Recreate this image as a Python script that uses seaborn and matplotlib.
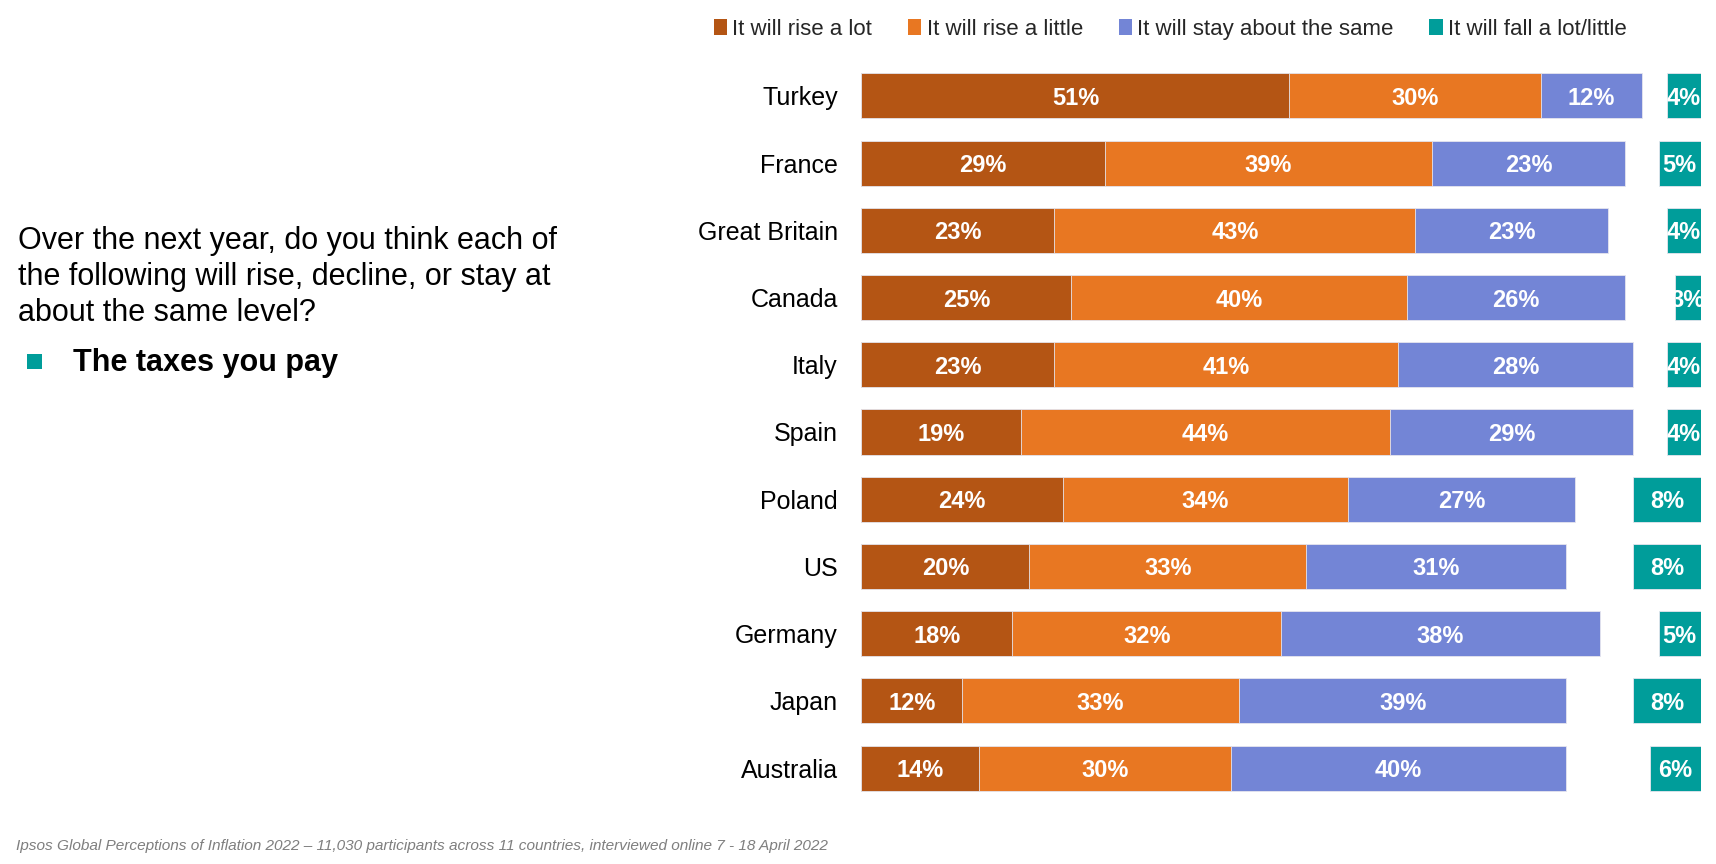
import matplotlib
matplotlib.use("Agg")
import matplotlib.pyplot as plt
import seaborn as sns
from matplotlib.patches import Patch, Rectangle

# Data
countries = ["Turkey", "France", "Great Britain", "Canada", "Italy", "Spain",
             "Poland", "US", "Germany", "Japan", "Australia"]
rise_lot = [51, 29, 23, 25, 23, 19, 24, 20, 18, 12, 14]
rise_little = [30, 39, 43, 40, 41, 44, 34, 33, 32, 33, 30]
stay_same = [12, 23, 23, 26, 28, 29, 27, 31, 38, 39, 40]
fall = [4, 5, 4, 3, 4, 4, 8, 8, 5, 8, 6]
series_names = ["It will rise a lot", "It will rise a little",
                "It will stay about the same", "It will fall a lot/little"]

colors = ["#B45514", "#E87722", "#7385D6", "#009D9A"]

# Settings
sns.set_theme(style="white")
plt.rcParams['font.family'] = ['Liberation Sans', 'DejaVu Sans']

fig = plt.figure(figsize=(17.16, 8.64), dpi=100)
ax = fig.add_axes([0.502, 0.072, 0.489, 0.856])

cum1 = rise_lot
cum2 = [a + b for a, b in zip(rise_lot, rise_little)]
cum3 = [a + b + c for a, b, c in zip(rise_lot, rise_little, stay_same)]

# stacked bars: draw longest first
for vals, col in [(cum3, colors[2]), (cum2, colors[1]), (cum1, colors[0])]:
    sns.barplot(x=vals, y=countries, color=col, width=0.67, ax=ax,
                edgecolor="#e6e6ee", linewidth=0.6, saturation=1)

for i in range(len(countries)):
    starts = [0, cum1[i], cum2[i]]
    widths = [rise_lot[i], rise_little[i], stay_same[i]]
    for s, w in zip(starts, widths):
        ax.text(s + w / 2, i, f"{w}%", ha="center", va="center_baseline",
                color="white", fontsize=17, fontweight="bold")

ax.set_xlim(0, 100)

# falling share, anchored at the right edge
ax2 = ax.twiny()
sns.barplot(x=fall, y=countries, color=colors[3], width=0.67, ax=ax2,
            edgecolor="#e6e6ee", linewidth=0.6, saturation=1)
for i, v in enumerate(fall):
    ax2.text(v / 2, i, f"{v}%", ha="center", va="center_baseline",
             color="white", fontsize=17, fontweight="bold", zorder=1)
ax2.set_xlim(100, 0)
ax.set_ylim(len(countries) - 0.5, -0.5)

for a in (ax, ax2):
    for sp in a.spines.values():
        sp.set_visible(False)
    a.set_xticks([])
    a.set_xlabel("")
    a.set_ylabel("")
ax.tick_params(axis="y", length=0, pad=17, labelsize=18, labelcolor="black")

# Legend
handles = [Patch(facecolor=c, edgecolor="none") for c in colors]
fig.legend(handles, series_names, loc="center", bbox_to_anchor=(0.682, 0.966),
           ncol=4, frameon=False, fontsize=16, handlelength=0.6, handleheight=0.75,
           handletextpad=0.25, columnspacing=1.6)

# Question text
fig.text(0.0105, 0.738, "Over the next year, do you think each of\n"
         "the following will rise, decline, or stay at\n"
         "about the same level?", ha="left", va="top", fontsize=22,
         linespacing=1.26, color="black")
fig.patches.append(Rectangle((0.0157, 0.573), 0.0088, 0.0175, transform=fig.transFigure,
                             facecolor=colors[3], edgecolor="none"))
fig.text(0.0425, 0.580, "The taxes you pay", ha="left", va="center",
         fontsize=22, fontweight="bold", color="black")

# Footer
fig.text(0.0093, 0.021, "Ipsos Global Perceptions of Inflation 2022 \u2013 11,030 participants across "
         "11 countries, interviewed online 7 - 18 April 2022", ha="left", va="center",
         fontsize=11.1, style="italic", color="#7f7f7f")

fig.savefig("out.png", dpi=100)
plt.close(fig)
